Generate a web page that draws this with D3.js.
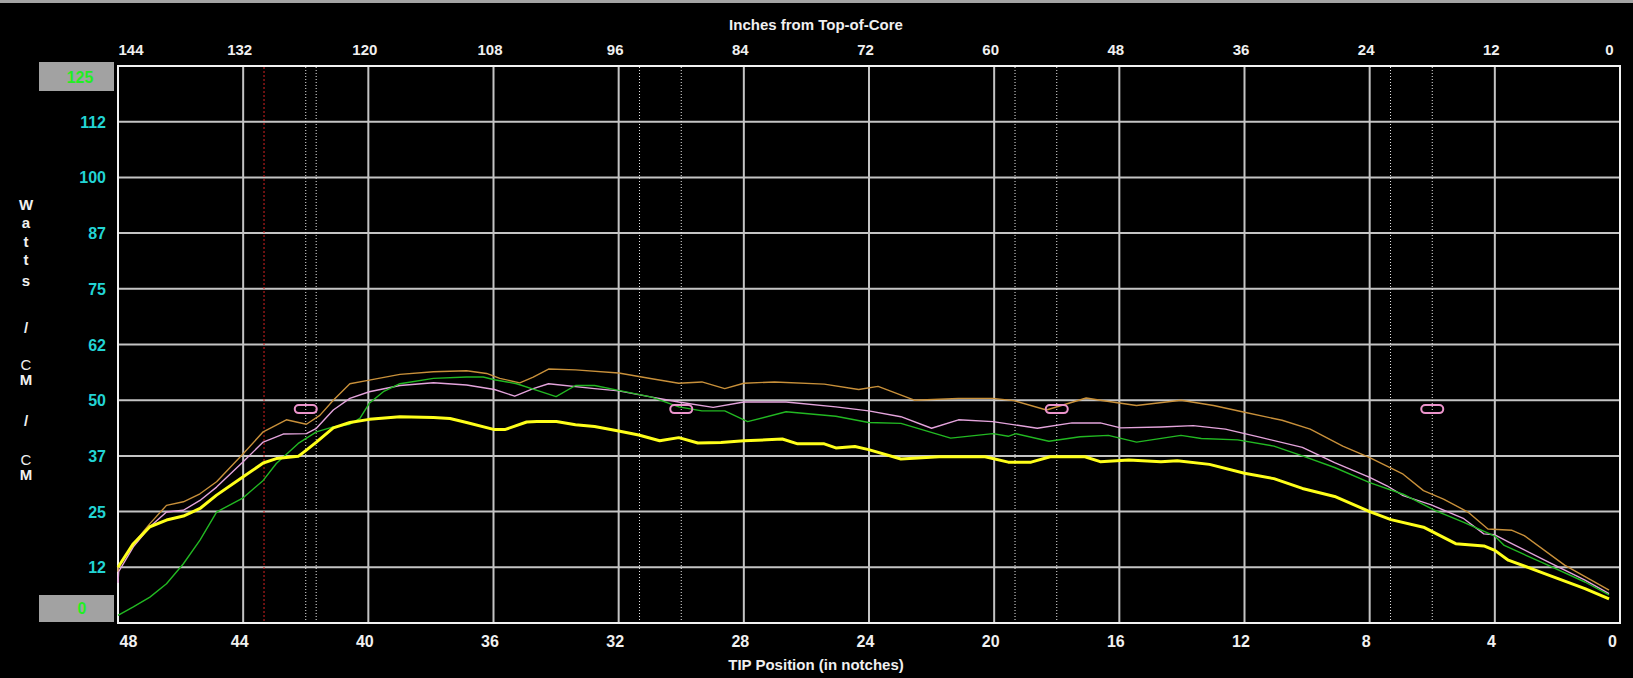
<!DOCTYPE html>
<html>
<head>
<meta charset="utf-8">
<script src="https://cdn.jsdelivr.net/npm/d3@7"></script>
<style>
  html, body { margin: 0; padding: 0; background: #000; }
  svg { display: block; }
  text { font-family: "Liberation Sans", Arial, sans-serif; font-weight: bold; }
</style>
</head>
<body>
<script>
// ---------------- DATA ----------------
const notchTicks = [48, 44, 40, 36, 32, 28, 24, 20, 16, 12, 8, 4, 0];
const inchTicks = [144, 132, 120, 108, 96, 84, 72, 60, 48, 36, 24, 12, 0];
const yTickValues = [112.5, 100, 87.5, 75, 62.5, 50, 37.5, 25, 12.5];
const yTickLabels = ["112", "100", "87", "75", "62", "50", "37", "25", "12"];
const yMaxLabel = "125";
const yMinLabel = "0";
const titleTop = "Inches from Top-of-Core";
const titleBottom = "TIP Position (in notches)";
const yTitleChars = ["W", "a", "t", "t", "s", "/", "C", "M", "/", "C", "M"];

// reference lines (inches from top of core)
const redLineInches = [130];
const dottedLineInches = [126, 125, 94, 90, 58, 54, 22, 18];
const markerInches = [126, 90, 54, 18];
const markerValue = 48;

// series: [notch, watts/cm]
const orangeSeries = [
  [48, 11.5], [47.99, 12.6], [47.51, 17.8], [46.98, 22.3], [46.45, 26.4], [45.91, 27.2],
  [45.38, 29.0], [44.85, 31.7], [44.0, 38.0], [43.36, 42.9], [42.62, 45.6], [41.98, 44.6],
  [41.55, 46.6], [41.12, 50.0], [40.59, 53.7], [39.97, 54.5], [38.99, 55.8], [37.92, 56.4],
  [36.86, 56.6], [36.22, 56.0], [35.80, 54.9], [35.16, 53.9], [34.73, 55.2], [34.24, 57.0],
  [33.38, 56.8], [32.0, 56.1], [30.94, 54.8], [30.08, 53.8], [29.34, 54.1], [28.61, 52.6],
  [28.0, 53.8], [27.02, 54.1], [25.43, 53.6], [24.33, 52.4], [23.71, 53.1], [22.55, 50.0],
  [21.14, 50.4], [20.04, 50.4], [19.37, 49.9], [18.33, 47.8], [17.72, 49.1], [17.06, 50.5],
  [16.61, 50.0], [15.45, 48.8], [14.03, 50.0], [12.99, 48.8], [12.0, 47.3], [10.80, 45.5],
  [9.90, 43.5], [8.86, 39.7], [8.0, 37.1], [6.93, 33.4], [6.28, 29.7], [5.64, 27.8],
  [4.86, 24.9], [4.22, 21.1], [3.45, 20.8], [3.06, 19.6], [1.77, 13.0], [0.35, 7.4]
];
const pinkSeries = [
  [48, 9.0], [47.98, 11.5], [47.51, 17.1], [46.98, 21.6], [46.45, 24.9], [45.91, 25.3],
  [45.38, 27.5], [44.85, 30.5], [44.0, 36.2], [43.36, 40.6], [42.72, 42.4], [41.98, 42.5],
  [41.66, 43.7], [41.12, 47.8], [40.59, 50.4], [39.97, 51.9], [38.99, 53.3], [37.92, 53.9],
  [36.86, 53.4], [35.97, 52.4], [35.32, 50.9], [34.73, 52.6], [34.24, 53.7], [32.77, 52.6],
  [32.0, 52.1], [30.94, 50.7], [30.08, 49.6], [28.98, 48.4], [28.0, 49.6], [26.65, 49.6],
  [25.06, 48.5], [24.01, 47.6], [22.98, 46.3], [22.0, 43.7], [21.14, 45.6], [20.04, 45.2],
  [18.62, 43.7], [17.51, 44.9], [16.61, 44.9], [15.96, 43.8], [14.67, 44.0], [13.64, 44.3],
  [12.61, 43.5], [11.45, 41.6], [10.15, 39.4], [9.12, 36.0], [8.0, 32.7], [7.45, 30.8],
  [6.93, 28.6], [6.03, 26.5], [4.99, 23.4], [4.35, 20.0], [4.0, 19.8], [3.57, 18.2],
  [2.41, 14.1], [1.12, 9.6], [0.35, 6.6]
];
const greenSeries = [
  [48, 1.7], [47.51, 3.6], [46.98, 5.8], [46.45, 8.8], [45.91, 13.3], [45.38, 18.6],
  [44.85, 24.9], [44.0, 28.1], [43.36, 32.0], [42.94, 35.8], [42.24, 40.3], [41.66, 42.9],
  [41.12, 44.0], [40.59, 44.6], [40.27, 45.9], [39.97, 49.3], [39.52, 51.9], [38.99, 53.7],
  [37.92, 54.9], [36.86, 55.2], [36.33, 55.2], [35.97, 54.6], [35.26, 53.7], [34.61, 52.2],
  [34.0, 50.8], [33.38, 53.3], [32.77, 53.3], [32.0, 52.2], [30.94, 50.7], [30.08, 48.5],
  [29.34, 47.6], [28.61, 47.6], [27.88, 45.2], [26.65, 47.4], [25.06, 46.4], [24.01, 45.0],
  [22.98, 44.8], [21.39, 41.5], [20.04, 42.5], [19.55, 41.9], [19.31, 42.5], [18.25, 40.8],
  [17.25, 41.8], [16.35, 42.1], [15.45, 40.6], [14.03, 42.1], [13.38, 41.4], [12.22, 41.1],
  [11.06, 39.7], [10.15, 37.5], [9.12, 34.9], [8.0, 31.5], [6.93, 28.9], [5.90, 25.2],
  [4.99, 22.6], [4.0, 19.5], [3.70, 17.4], [2.41, 13.3], [1.12, 9.2], [0.35, 6.3]
];
const yellowSeries = [
  [48, 12.5], [47.51, 17.8], [46.98, 21.6], [46.45, 23.1], [45.91, 24.0], [45.38, 25.7],
  [44.85, 28.7], [44.0, 32.8], [43.36, 35.9], [42.94, 36.9], [42.24, 37.4], [41.98, 38.8],
  [41.66, 40.6], [41.12, 43.8], [40.59, 45.0], [39.97, 45.7], [38.99, 46.3], [37.92, 46.1],
  [37.39, 45.9], [36.86, 45.0], [35.97, 43.4], [35.64, 43.4], [34.94, 45.1], [34.61, 45.2],
  [33.99, 45.2], [33.38, 44.5], [32.77, 44.1], [32.0, 43.1], [31.36, 42.2], [30.69, 40.9],
  [30.08, 41.6], [29.47, 40.4], [28.73, 40.5], [28.0, 40.9], [27.27, 41.1], [26.77, 41.3],
  [26.28, 40.2], [25.43, 40.2], [25.06, 39.3], [24.45, 39.6], [24.01, 38.9], [22.98, 36.8],
  [21.76, 37.3], [20.29, 37.3], [19.55, 36.1], [18.82, 36.1], [18.21, 37.3], [17.10, 37.3],
  [16.61, 36.2], [15.70, 36.6], [14.67, 36.2], [14.15, 36.4], [13.12, 35.6], [12.0, 33.6],
  [11.06, 32.4], [10.15, 30.2], [9.12, 28.4], [8.0, 25.0], [7.32, 23.2], [6.28, 21.5],
  [5.25, 17.8], [4.35, 17.3], [4.0, 16.3], [3.57, 14.1], [2.41, 11.1], [1.12, 7.7], [0.35, 5.4]
];

// ---------------- LAYOUT ----------------
const W = 1633, H = 678;
const L = 118, R = 1620, T = 66, B = 623;

const svg = d3.select("body").append("svg").attr("width", W).attr("height", H);
svg.append("rect").attr("width", W).attr("height", H).attr("fill", "#000");
svg.append("rect").attr("x", 0).attr("y", 0).attr("width", W).attr("height", 3).attr("fill", "#a4a4a4");

const x = d3.scaleLinear().domain([48, 0]).range([L, R]);
const xIn = d3.scaleLinear().domain([144, 0]).range([L, R]);
const y = d3.scaleLinear().domain([0, 125]).range([B, T]);

// grid
const grid = svg.append("g");
grid.selectAll("line.v").data(notchTicks.filter(d => d !== 48 && d !== 0)).enter()
  .append("line").attr("x1", d => x(d)).attr("x2", d => x(d)).attr("y1", T).attr("y2", B)
  .attr("stroke", "#c4c4c4").attr("stroke-width", 2);
grid.selectAll("line.h").data(yTickValues).enter()
  .append("line").attr("x1", L).attr("x2", R).attr("y1", d => y(d)).attr("y2", d => y(d))
  .attr("stroke", "#c4c4c4").attr("stroke-width", 2);

// reference dotted lines
svg.selectAll("line.red").data(redLineInches).enter().append("line")
  .attr("x1", d => xIn(d)).attr("x2", d => xIn(d)).attr("y1", T + 1).attr("y2", B - 1)
  .attr("stroke", "#d42222").attr("stroke-width", 1).attr("stroke-dasharray", "2,2");
svg.selectAll("line.dot").data(dottedLineInches).enter().append("line")
  .attr("x1", d => xIn(d)).attr("x2", d => xIn(d)).attr("y1", T + 1).attr("y2", B - 1)
  .attr("stroke", "#e8e8e8").attr("stroke-width", 1).attr("stroke-dasharray", "1,2");

// border
svg.append("rect").attr("x", L).attr("y", T).attr("width", R - L).attr("height", B - T)
  .attr("fill", "none").attr("stroke", "#f2f2f2").attr("stroke-width", 2);

// series
const line = d3.line().x(d => x(d[0])).y(d => y(d[1]));
const series = [
  { data: orangeSeries, color: "#c8903a", w: 1.4 },
  { data: pinkSeries, color: "#e4a4dc", w: 1.4 },
  { data: greenSeries, color: "#22b822", w: 1.4 },
  { data: yellowSeries, color: "#ffff1a", w: 3 }
];
svg.selectAll("path.s").data(series).enter().append("path")
  .attr("d", d => line(d.data)).attr("fill", "none")
  .attr("stroke", d => d.color).attr("stroke-width", d => d.w)
  .attr("stroke-linejoin", "round");

// markers
svg.selectAll("rect.m").data(markerInches).enter().append("rect")
  .attr("x", d => xIn(d) - 11).attr("y", y(markerValue) - 4)
  .attr("width", 22).attr("height", 8).attr("rx", 4).attr("ry", 4)
  .attr("fill", "none").attr("stroke", "#ec94cc").attr("stroke-width", 2);

// top axis
const topAxis = svg.append("g").attr("transform", `translate(0,55)`)
  .call(d3.axisTop(xIn).tickValues(inchTicks).tickSize(0).tickFormat(d3.format("d")));
topAxis.select(".domain").remove();
topAxis.selectAll("text")
  .attr("y", 0).attr("dy", 0).attr("fill", "#f0f0f0")
  .style("font-size", "15px").style("font-family", "Liberation Sans, Arial, sans-serif").style("font-weight", "bold")
  .attr("text-anchor", d => d === 144 ? "start" : (d === 0 ? "end" : "middle"))
  .attr("x", d => d === 144 ? 0 : (d === 0 ? -7 : -4));

// bottom axis
const botAxis = svg.append("g").attr("transform", `translate(0,647)`)
  .call(d3.axisBottom(x).tickValues(notchTicks).tickSize(0).tickFormat(d3.format("d")));
botAxis.select(".domain").remove();
botAxis.selectAll("text")
  .attr("y", 0).attr("dy", 0).attr("fill", "#f0f0f0")
  .style("font-size", "16px").style("font-family", "Liberation Sans, Arial, sans-serif").style("font-weight", "bold")
  .attr("text-anchor", d => d === 48 ? "start" : "middle")
  .attr("x", d => d === 48 ? 1 : (d === 0 ? -8 : -4));

// left axis
const leftAxis = svg.append("g").attr("transform", `translate(106,0)`)
  .call(d3.axisLeft(y).tickValues(yTickValues).tickSize(0).tickFormat((d, i) => yTickLabels[i]));
leftAxis.select(".domain").remove();
leftAxis.selectAll("text")
  .attr("x", 0).attr("dy", 5.5).attr("fill", "#22d4d4").attr("text-anchor", "end")
  .style("font-size", "16px").style("font-family", "Liberation Sans, Arial, sans-serif").style("font-weight", "bold");

// boxed extremes
const boxes = [
  { label: yMaxLabel, top: y(125) - 4, h: 29, base: y(125) + 17, cx: 80 },
  { label: yMinLabel, top: y(0) - 28, h: 27, base: y(0) - 9, cx: 82 }
];
boxes.forEach(b => {
  svg.append("rect").attr("x", 39).attr("y", b.top).attr("width", 75).attr("height", b.h).attr("fill", "#a2a2a2");
  svg.append("text").attr("x", b.cx).attr("y", b.base).attr("text-anchor", "middle")
    .attr("fill", "#22ee22").style("font-size", "16px").text(b.label);
});

// titles
svg.append("text").attr("x", 816).attr("y", 30).attr("text-anchor", "middle")
  .attr("fill", "#f0f0f0").style("font-size", "15px").text(titleTop);
svg.append("text").attr("x", 816).attr("y", 670).attr("text-anchor", "middle")
  .attr("fill", "#f0f0f0").style("font-size", "15px").text(titleBottom);

const yTitleBaselines = [210, 228, 247, 265, 286, 333, 370, 385, 426, 465, 480];
svg.selectAll("text.yt").data(yTitleChars).enter().append("text")
  .attr("x", 26).attr("y", (d, i) => yTitleBaselines[i]).attr("text-anchor", "middle")
  .attr("fill", "#f0f0f0").style("font-size", "15px")
  .style("font-weight", d => d === "C" ? "normal" : "bold")
  .text(d => d);
</script>
</body>
</html>
